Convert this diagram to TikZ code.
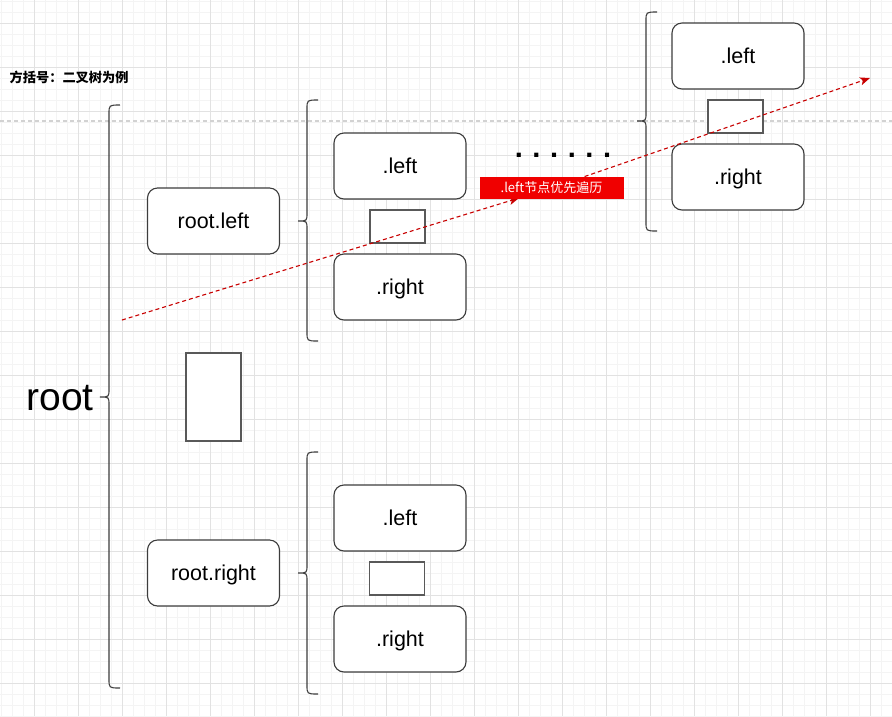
\documentclass[tikz,border=0pt]{standalone}
\usepackage{fontspec}
\setmainfont{Liberation Sans}
\newfontfamily\cjk{Noto Sans CJK SC}
\usetikzlibrary{arrows.meta}
\pgfdeclarelayer{front}
\pgfsetlayers{main,front}
\definecolor{gridminor}{RGB}{244,244,244}
\definecolor{gridmajor}{RGB}{226,226,226}
\definecolor{guide}{RGB}{210,210,210}
\definecolor{boxline}{RGB}{60,60,60}
\definecolor{edgered}{RGB}{200,0,0}
\definecolor{lblred}{RGB}{240,0,0}
\tikzset{
 box/.style={draw=boxline, line width=1.1pt, fill=white, rounded corners=10pt, minimum width=132pt, minimum height=66pt, inner sep=0pt, text height=15.4pt, text depth=0pt, font=\fontsize{21.5}{24}\selectfont},
 smallbox/.style={draw=boxline!85, line width=1.1pt, fill=white, minimum width=55pt, minimum height=33pt, inner sep=0pt},
 bracestyle/.style={draw=boxline, line width=1.1pt},
 rededge/.style={draw=edgered, line width=1.1pt, dash pattern=on 4pt off 3pt, -{Stealth[length=10pt,width=8pt,inset=2.5pt]}, fill=none},
 gridmin/.style={draw=gridminor, line width=0.7pt},
 gridmaj/.style={draw=gridmajor, line width=0.8pt},
}
\newcommand\mybrace[4]{%
 \draw[bracestyle] ({#1+11},#2) .. controls (#1,#2) .. (#1,{#2+9}) -- (#1,{#3-8}) .. controls (#1,#3) .. ({#1-9},#3) .. controls (#1,#3) .. (#1,{#3+8}) -- (#1,{#4-9}) .. controls (#1,#4) .. ({#1+11},#4);}
\begin{document}
\begin{tikzpicture}[x=1pt,y=-1pt]
\useasboundingbox (0,0) rectangle (892,716);
% grid
\foreach \x in {1,12,...,892} \draw[gridmin] (\x,0) -- (\x,716);
\foreach \y in {1,12,...,716} \draw[gridmin] (0,\y) -- (892,\y);
\foreach \x in {34,78,...,892} \draw[gridmaj] (\x,0) -- (\x,716);
\foreach \y in {23,67,...,716} \draw[gridmaj] (0,\y) -- (892,\y);
% guide line
\draw[draw=guide, line width=1.5pt, dash pattern=on 4pt off 3pt] (0,121) -- (892,121);
% title
\node[anchor=west, inner sep=0pt, font=\cjk\bfseries\fontsize{13.2}{15}\selectfont] (title) at (9.5,77) {方括号：二叉树为例};
% root
\node[font=\fontsize{39}{42}\selectfont, inner sep=0pt] (root) at (60,398) {root};
\mybrace{109}{105}{397}{688}
% level 1
\node[box] (rl) at (213.5,221) {root.left};
\node[box] (rr) at (213.5,573) {root.right};
\node[smallbox, minimum height=88pt] (gap1) at (213.5,397) {};
% upper level 2
\mybrace{307}{100}{221}{341}
\node[box] (ul) at (400,166) {.left};
\node[smallbox] (ug) at (397.5,226.5) {};
\node[box] (ur) at (400,287) {.right};
% lower level 2
\mybrace{307}{452}{573}{694}
\node[box] (ll) at (400,518) {.left};
\node[smallbox] (lg) at (397,578.5) {};
\node[box] (lr) at (400,639) {.right};
% top right level
\mybrace{646}{12}{121}{231}
\node[box] (tl) at (738,56) {.left};
\node[smallbox] (tg) at (735.5,116.5) {};
\node[box] (tr) at (738,177) {.right};
% dots
\node[font=\bfseries\fontsize{29}{30}\selectfont] (dots) at (563,155.5) {.\hspace{9.6pt}.\hspace{9.6pt}.\hspace{9.6pt}.\hspace{9.6pt}.\hspace{9.6pt}.};
% red label
\begin{pgfonlayer}{front}
\node[fill=lblred, minimum width=144pt, minimum height=22.5pt, inner sep=0pt, text=white, font=\cjk\fontsize{13}{15}\selectfont] (lbl) at (551.5,188) {.left节点优先遍历};
\end{pgfonlayer}
\coordinate (rs) at (122,320);
\coordinate (re) at (870,78);
\draw[rededge, shorten >=-5pt] (rs) -- (lbl);
\draw[rededge] (lbl) -- (re);
\end{tikzpicture}
\end{document}
